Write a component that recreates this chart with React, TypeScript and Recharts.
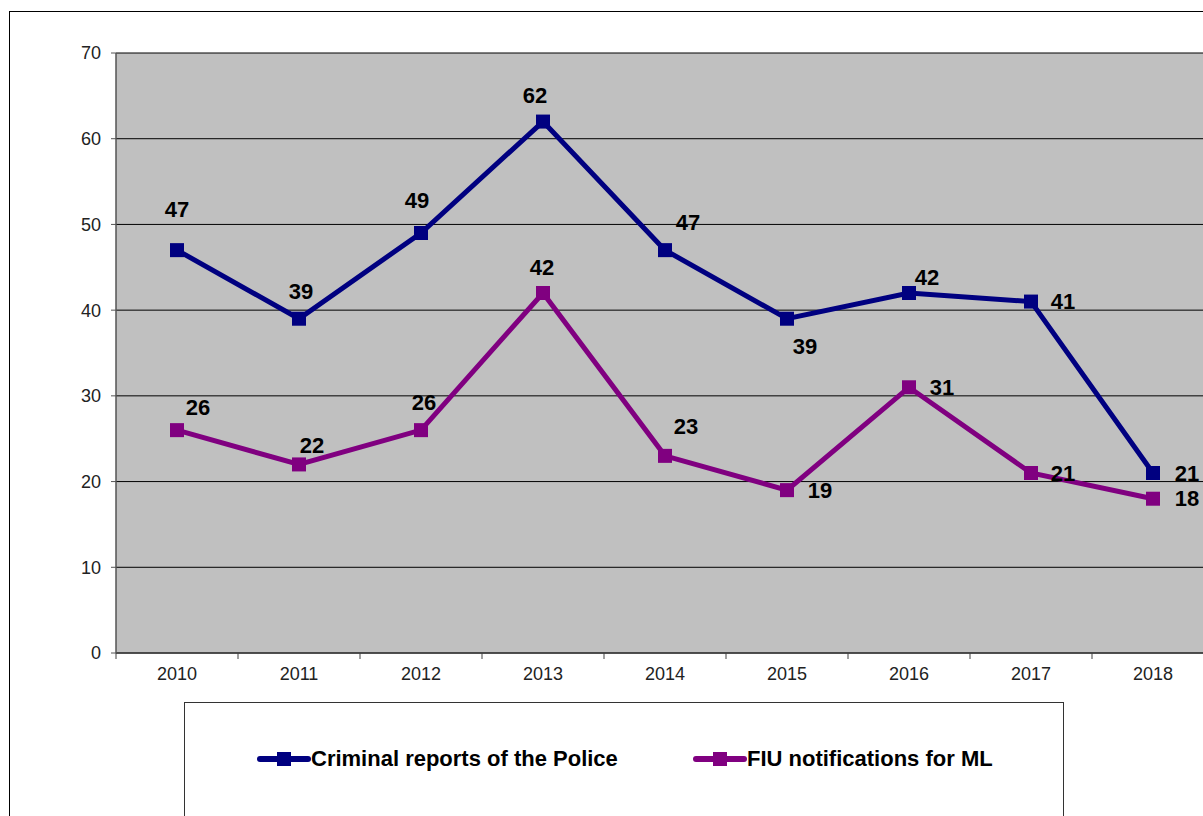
import React from 'react';
import { LineChart, Line, XAxis, YAxis, CartesianGrid, LabelList } from 'recharts';

const years = ['2010', '2011', '2012', '2013', '2014', '2015', '2016', '2017', '2018'];
const criminalReports = [47, 39, 49, 62, 47, 39, 42, 41, 21];
const fiuNotifications = [26, 22, 26, 42, 23, 19, 31, 21, 18];
const yTicks = [0, 10, 20, 30, 40, 50, 60, 70];
const seriesNames = ['Criminal reports of the Police', 'FIU notifications for ML'];
const seriesColors = ['#000080', '#800080'];

// label placement offsets (dx, dy) relative to each point
const criminalLabelOffsets: [number, number][] = [
  [0, -41], [2, -27], [-4, -33], [-8, -26], [23, -28], [18, 28], [18, -16], [32, 0], [34, 0],
];
const fiuLabelOffsets: [number, number][] = [
  [21, -23], [13, -19], [3, -28], [-1, -26], [21, -29], [33, 0], [33, 0], [32, 0], [34, 0],
];

const data = years.map((y, i) => ({
  year: y,
  criminal: criminalReports[i],
  fiu: fiuNotifications[i],
}));

const FONT = 'Arial, "Liberation Sans", sans-serif';

const makeLabel = (offsets: [number, number][]) => (props: any) => {
  const { x, y, value, index } = props;
  const [dx, dy] = offsets[index] || [0, 0];
  return (
    <text
      x={x + dx}
      y={y + dy}
      textAnchor="middle"
      dominantBaseline="central"
      fontFamily={FONT}
      fontWeight="bold"
      fontSize={22}
      fill="#000"
    >
      {value}
    </text>
  );
};

const X_TICK_MARGIN = 8;
const X_TICK_SIZE = 6;

const XTick = (props: any) => {
  const { x, y, payload, width, visibleTicksCount } = props;
  const band = width / (visibleTicksCount || years.length);
  const axisY = y - X_TICK_MARGIN - X_TICK_SIZE;
  return (
    <g>
      <line x1={x - band / 2} y1={axisY} x2={x - band / 2} y2={axisY + 6} stroke="#404040" strokeWidth={1} />
      <text x={x} y={y} dy="0.71em" textAnchor="middle" fontFamily={FONT} fontSize={18} fill="#222">
        {payload.value}
      </text>
    </g>
  );
};

const Square = (color: string) => (props: any) => {
  const { cx, cy } = props;
  if (cx == null || cy == null) return null;
  return <rect x={cx - 7} y={cy - 7} width={14} height={14} fill={color} />;
};

const LegendItem = ({ color, name, left }: { color: string; name: string; left: number }) => (
  <div style={{ position: 'absolute', left, top: 42, display: 'flex', alignItems: 'center', height: 28 }}>
    <svg width={54} height={20} style={{ display: 'block' }}>
      <line x1={3} y1={10} x2={51} y2={10} stroke={color} strokeWidth={6} strokeLinecap="round" />
      <rect x={20} y={3} width={14} height={14} fill={color} />
    </svg>
    <span style={{ fontFamily: FONT, fontWeight: 'bold', fontSize: 22, color: '#000', whiteSpace: 'nowrap' }}>
      {name}
    </span>
  </div>
);

export default function App() {
  return (
    <div
      style={{
        position: 'absolute',
        left: 0,
        top: 0,
        width: 1203,
        height: 816,
        overflow: 'hidden',
        background: '#fff',
      }}
    >
      <div
        style={{
          position: 'absolute',
          left: 9,
          top: 11,
          width: 1400,
          height: 1000,
          border: '1px solid #000',
          boxSizing: 'border-box',
        }}
      />
      <div style={{ position: 'absolute', left: 0, top: 0 }}>
        <LineChart
          width={1260}
          height={720}
          data={data}
          margin={{ top: 53, left: 56, right: 46, bottom: 37 }}
        >
          <CartesianGrid vertical={false} stroke="#000" fill="#C0C0C0" strokeWidth={1} />
          <XAxis
            dataKey="year"
            scale="band"
            height={30}
            tickLine={false}
            axisLine={{ stroke: '#404040', strokeWidth: 1.5 }}
            tickSize={X_TICK_SIZE}
            tickMargin={X_TICK_MARGIN}
            interval={0}
            tick={<XTick />}
          />
          <YAxis
            domain={[0, 70]}
            ticks={yTicks}
            width={60}
            interval={0}
            tickSize={5}
            tickMargin={10}
            axisLine={{ stroke: '#555', strokeWidth: 1.5 }}
            tickLine={{ stroke: '#555' }}
            tick={{ fontFamily: FONT, fontSize: 18, fill: '#222' }}
          />
          <Line
            dataKey="criminal"
            name={seriesNames[0]}
            stroke={seriesColors[0]}
            strokeWidth={5}
            dot={Square(seriesColors[0])}
            activeDot={false}
            isAnimationActive={false}
          >
            <LabelList dataKey="criminal" content={makeLabel(criminalLabelOffsets)} />
          </Line>
          <Line
            dataKey="fiu"
            name={seriesNames[1]}
            stroke={seriesColors[1]}
            strokeWidth={5}
            dot={Square(seriesColors[1])}
            activeDot={false}
            isAnimationActive={false}
          >
            <LabelList dataKey="fiu" content={makeLabel(fiuLabelOffsets)} />
          </Line>
        </LineChart>
      </div>
      <div
        style={{
          position: 'absolute',
          left: 184,
          top: 702,
          width: 880,
          height: 200,
          border: '1px solid #333',
          boxSizing: 'border-box',
          background: '#fff',
        }}
      >
        <LegendItem color={seriesColors[0]} name={seriesNames[0]} left={72} />
        <LegendItem color={seriesColors[1]} name={seriesNames[1]} left={508} />
      </div>
    </div>
  );
}
